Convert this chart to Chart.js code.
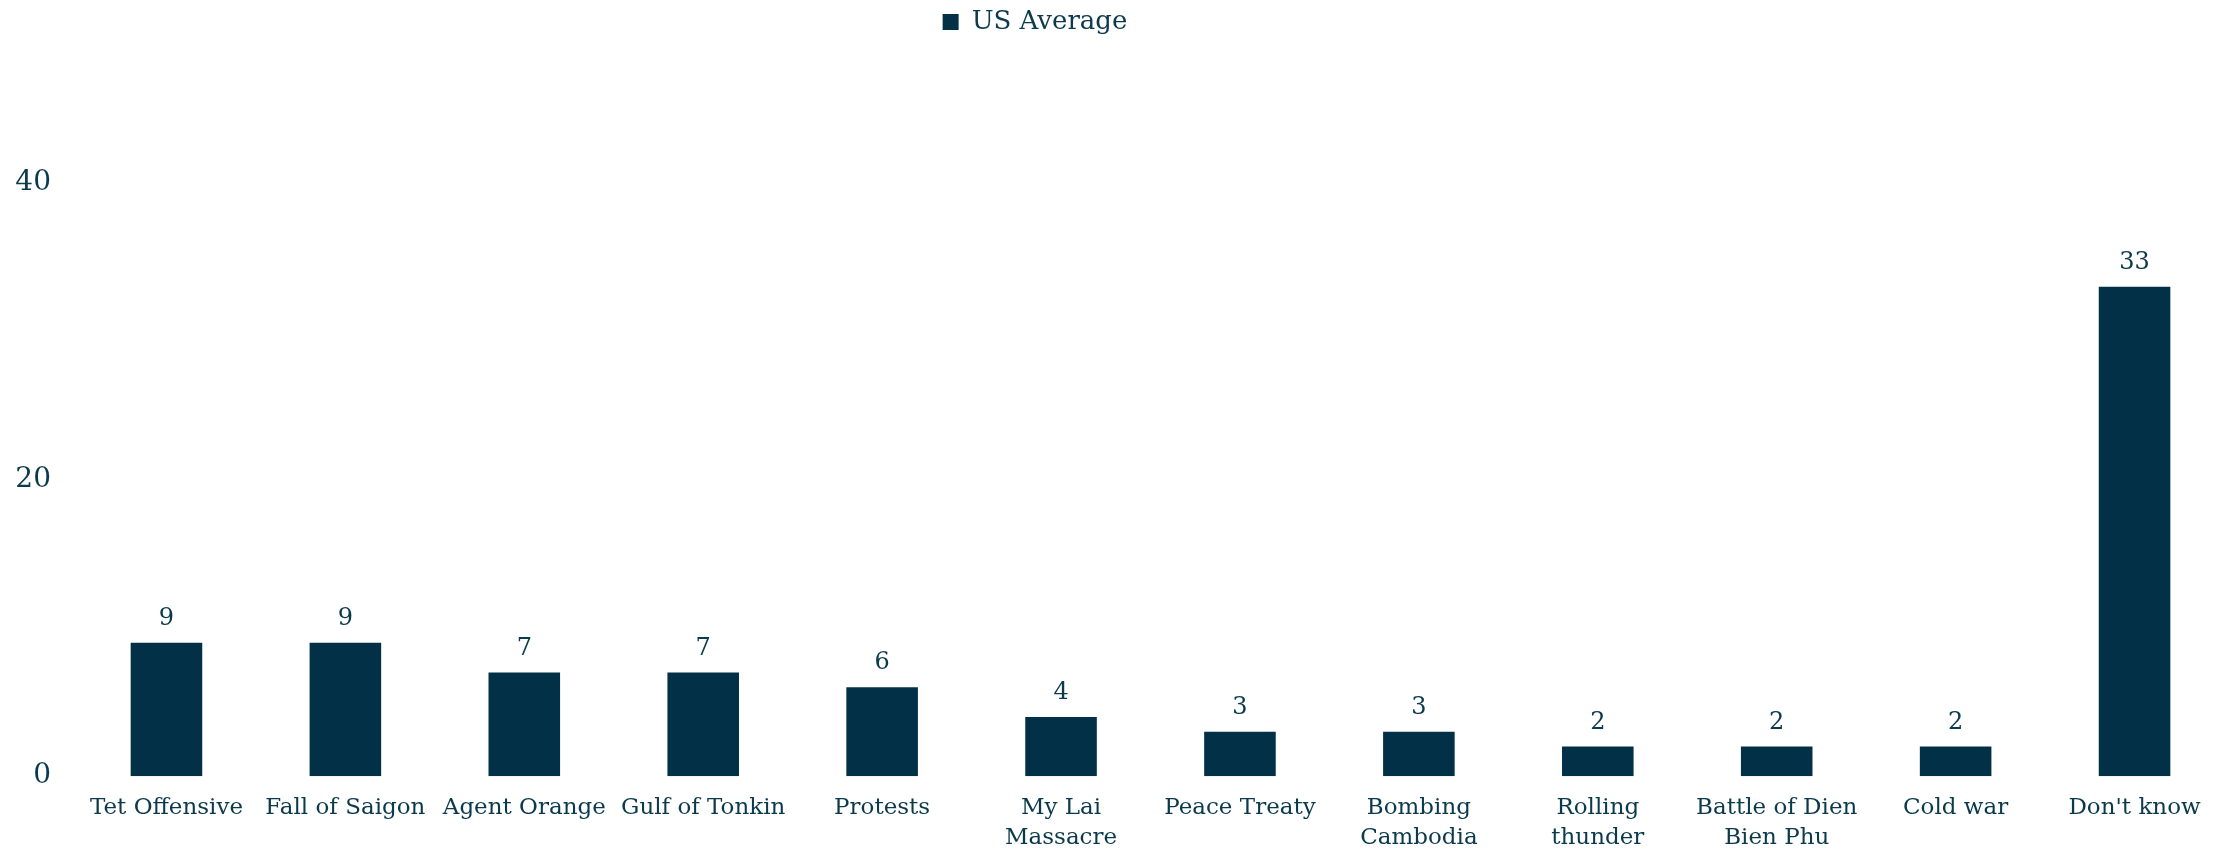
<!DOCTYPE html>
<html>
<head>
<meta charset="utf-8">
<script src="https://cdn.jsdelivr.net/npm/chart.js@4/dist/chart.umd.min.js"></script>
<style>
  html, body { margin: 0; padding: 0; background: #fff; }
  #wrap { width: 2233px; height: 853px; }
</style>
</head>
<body>
<div id="wrap"><canvas id="eventsChart"></canvas></div>
<script>
// Categorias (etiquetas de varias lineas como arrays)
var categories = [
    'Tet Offensive', 'Fall of Saigon', 'Agent Orange', 'Gulf of Tonkin', 'Protests',
    ['My Lai', 'Massacre'], 'Peace Treaty', ['Bombing', 'Cambodia'], ['Rolling', 'thunder'],
    ['Battle of Dien', 'Bien Phu'], 'Cold war', "Don't know"
];
var usAverage = [9, 9, 7, 7, 6, 4, 3, 3, 2, 2, 2, 33];
var yTicks = [0, 20, 40];

var barColor = '#023047';
var textColor = '#0b3a4c';
var fontFamily = '"DejaVu Serif", serif';

// Etiquetas de valor encima de cada barra
var valueLabels = {
    id: 'valueLabels',
    afterDatasetsDraw: function(chart) {
        var ctx = chart.ctx;
        var meta = chart.getDatasetMeta(0);
        ctx.save();
        ctx.fillStyle = textColor;
        ctx.font = '24px ' + fontFamily;
        ctx.textAlign = 'center';
        ctx.textBaseline = 'bottom';
        meta.data.forEach(function(bar, i) {
            ctx.fillText(chart.data.datasets[0].data[i], bar.x, bar.y - 12);
        });
        ctx.restore();
    }
};

// Mover la leyenda un poco a la izquierda como en el original
var shiftLegend = {
    id: 'shiftLegend',
    afterLayout: function(chart) {
        chart.legend.left -= 77;
        chart.legend.right -= 77;
    }
};

var ctx = document.getElementById('eventsChart').getContext('2d');
var eventsChart = new Chart(ctx, {
    type: 'bar',
    data: {
        labels: categories,
        datasets: [{
            label: 'US Average',
            data: usAverage,
            backgroundColor: barColor,
            borderWidth: 0,
            barPercentage: 0.4,
            categoryPercentage: 1.0
        }]
    },
    options: {
        responsive: true,
        maintainAspectRatio: false,
        animation: false,
        layout: { padding: { top: 0, right: 9, bottom: -9, left: 0 } },
        plugins: {
            legend: {
                position: 'top',
                labels: {
                    color: textColor,
                    font: { family: fontFamily, size: 26 },
                    boxWidth: 16,
                    boxHeight: 16,
                    padding: 9
                }
            },
            // titulo vacio, solo para dejar espacio bajo la leyenda
            title: {
                display: true,
                text: '',
                weight: 500,
                font: { size: 10, lineHeight: 1 },
                padding: { top: 128, bottom: 0 }
            },
            tooltip: { enabled: false }
        },
        scales: {
            x: {
                grid: { display: false },
                border: { display: false },
                ticks: {
                    color: textColor,
                    font: { family: fontFamily, size: 23, lineHeight: 1.3 },
                    maxRotation: 0,
                    autoSkip: false,
                    padding: 9
                }
            },
            y: {
                min: 0,
                max: 40,
                grid: { display: false },
                border: { display: false },
                afterBuildTicks: function(scale) {
                    scale.ticks = yTicks.map(function(v) { return { value: v }; });
                },
                afterFit: function(scale) { scale.width = 77; },
                ticks: {
                    color: textColor,
                    font: { family: fontFamily, size: 28 },
                    padding: 18
                }
            }
        }
    },
    plugins: [valueLabels, shiftLegend]
});
</script>
</body>
</html>
